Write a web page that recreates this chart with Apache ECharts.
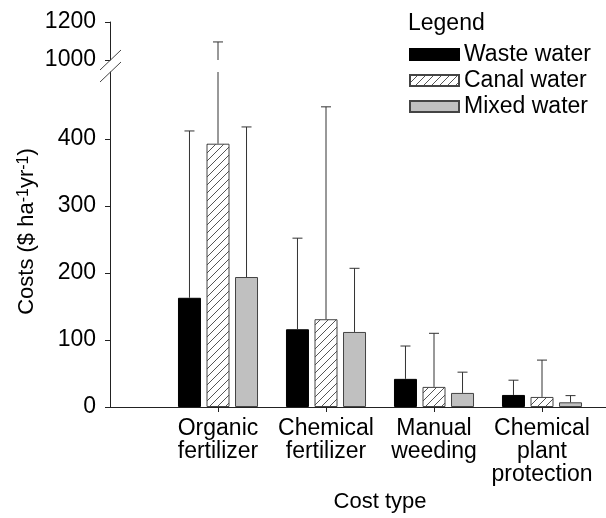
<!DOCTYPE html>
<html>
<head>
<meta charset="utf-8">
<script src="https://cdn.jsdelivr.net/npm/echarts@6/dist/echarts.min.js"></script>
<style>
  html, body { margin: 0; padding: 0; background: #fff; }
  #chart { width: 606px; height: 518px; }
</style>
</head>
<body>
<div id="chart"></div>
<script>
// values (mean and upper error)
var categories = ['Organic\nfertilizer', 'Chemical\nfertilizer', 'Manual\nweeding', 'Chemical\nplant\nprotection'];
var seriesNames = ['Waste water', 'Canal water', 'Mixed water'];
var wasteMean = [163, 116, 42, 18];
var wasteSd = [249, 136, 49, 22];
var canalMean = [393, 131, 30, 15];
var canalSd = [702, 317, 80, 55];
var mixedMean = [194, 112, 21, 7];
var mixedSd = [224, 95, 31, 10];
var lowerTicks = [0, 100, 200, 300, 400];
var upperTicks = [1000, 1200];

var FONT = 'Liberation Sans, Arial, sans-serif';
var BAR_W = 23;
var BAR_GAP = 0.24;
var AXIS_COLOR = '#222';

// hatch fill for canal water
var hatch = document.createElement('canvas');
hatch.width = 8;
hatch.height = 8;
var hctx = hatch.getContext('2d');
hctx.fillStyle = '#fff';
hctx.fillRect(0, 0, 8, 8);
hctx.strokeStyle = '#555';
hctx.lineWidth = 1;
hctx.beginPath();
hctx.moveTo(0, 8); hctx.lineTo(8, 0);
hctx.moveTo(-1, 1); hctx.lineTo(1, -1);
hctx.moveTo(7, 9); hctx.lineTo(9, 7);
hctx.stroke();

var xData = [''].concat(categories, ['']);

function barData(mean) {
	return mean.map(function(v, i) { return [i + 1, v]; });
}
function errData(mean, sd) {
	return mean.map(function(v, i) { return [i + 1, v, v + sd[i]]; });
}

function errRender(k) {
	return function(params, api) {
		var cs = params.coordSys;
		var x = api.coord([api.value(0), 0])[0] + (k - 1) * BAR_W * (1 + BAR_GAP);
		var yLow = api.coord([api.value(0), api.value(1)])[1];
		var yHigh = api.coord([api.value(0), api.value(2)])[1];
		var top = cs.y, bottom = cs.y + cs.height;
		if (yHigh > bottom || yLow < top) return;
		var y1 = Math.min(yLow, bottom);
		var y2 = Math.max(yHigh, top);
		var style = { stroke: '#333', lineWidth: 1 };
		var children = [{ type: 'line', shape: { x1: x, y1: y1, x2: x, y2: y2 }, style: style }];
		if (yHigh >= top) {
			children.push({ type: 'line', shape: { x1: x - 5, y1: yHigh, x2: x + 5, y2: yHigh }, style: style });
		}
		return { type: 'group', children: children };
	};
}

var styles = [
	{ color: '#000', borderColor: '#000', borderWidth: 1 },
	{ color: { image: hatch, repeat: 'repeat' }, borderColor: '#444', borderWidth: 1 },
	{ color: '#c0c0c0', borderColor: '#444', borderWidth: 1 }
];
var means = [wasteMean, canalMean, mixedMean];
var sds = [wasteSd, canalSd, mixedSd];

var series = [];
for (var k = 0; k < 3; k++) {
	series.push({
		name: seriesNames[k],
		type: 'bar',
		xAxisIndex: 0,
		yAxisIndex: 0,
		barWidth: BAR_W,
		barGap: (BAR_GAP * 100) + '%',
		itemStyle: styles[k],
		emphasis: { disabled: true },
		data: barData(means[k])
	});
}
for (var k = 0; k < 3; k++) {
	for (var g = 0; g < 2; g++) {
		series.push({
			type: 'custom',
			xAxisIndex: g,
			yAxisIndex: g,
			z: 5,
			silent: true,
			renderItem: errRender(k),
			data: errData(means[k], sds[k])
		});
	}
}

var plain = function(v) { return String(v); };

var chart = echarts.init(document.getElementById('chart'));
chart.setOption({
	animation: false,
	textStyle: { fontFamily: FONT },
	title: {
		text: 'Legend',
		left: 403,
		top: 7,
		textStyle: { fontSize: 23, fontWeight: 'normal', color: '#000', fontFamily: FONT }
	},
	legend: {
		orient: 'vertical',
		left: 404,
		top: 38,
		icon: 'rect',
		itemWidth: 49,
		itemHeight: 11,
		itemGap: 3,
		selectedMode: false,
		textStyle: { fontSize: 23, color: '#000', fontFamily: FONT },
		data: seriesNames
	},
	grid: [
		{ left: 110, top: 72, width: 540, height: 335, outerBoundsMode: 'none' },
		{ left: 110, top: 22, width: 540, height: 38, outerBoundsMode: 'none' }
	],
	xAxis: [
		{
			type: 'category',
			gridIndex: 0,
			data: xData,
			boundaryGap: false,
			axisLine: { lineStyle: { color: AXIS_COLOR } },
			axisTick: {
				length: 5,
				interval: function(i, v) { return v !== ''; },
				lineStyle: { color: AXIS_COLOR }
			},
			axisLabel: { interval: 0, fontSize: 23, lineHeight: 23, margin: 10, color: '#000', fontFamily: FONT },
			name: 'Cost type',
			nameLocation: 'middle',
			nameGap: 78,
			nameTextStyle: { fontSize: 22, color: '#000', fontFamily: FONT }
		},
		{
			type: 'category',
			gridIndex: 1,
			data: xData,
			boundaryGap: false,
			show: false
		}
	],
	yAxis: [
		{
			type: 'value',
			gridIndex: 0,
			min: 0,
			max: 500,
			interval: 100,
			axisLine: { show: true, lineStyle: { color: AXIS_COLOR } },
			axisTick: { show: true, length: 5, customValues: lowerTicks, lineStyle: { color: AXIS_COLOR } },
			axisLabel: { customValues: lowerTicks, formatter: plain, fontSize: 23, margin: 14, color: '#000', fontFamily: FONT },
			splitLine: { show: false },
			name: 'Costs ($ ha{sup|-1}yr{sup|-1})',
			nameLocation: 'middle',
			nameGap: 72,
			nameTextStyle: {
				fontSize: 22,
				color: '#000',
				fontFamily: FONT,
				padding: [0, 0, 0, 16],
				rich: {
					sup: { fontSize: 16, verticalAlign: 'top', color: '#000', fontFamily: FONT }
				}
			}
		},
		{
			type: 'value',
			gridIndex: 1,
			min: 1000,
			max: 1200,
			interval: 200,
			axisLine: { show: true, lineStyle: { color: AXIS_COLOR } },
			axisTick: { show: true, length: 5, customValues: upperTicks, lineStyle: { color: AXIS_COLOR } },
			axisLabel: { customValues: upperTicks, formatter: plain, fontSize: 23, margin: 14, color: '#000', fontFamily: FONT },
			splitLine: { show: false }
		}
	],
	series: series
});

// axis break marks
var pLow = chart.convertToPixel({ gridIndex: 0 }, [0, 500]);
var pHigh = chart.convertToPixel({ gridIndex: 1 }, [0, 1000]);
function slash(p) {
	return {
		type: 'line',
		shape: { x1: p[0] - 10, y1: p[1] + 10, x2: p[0] + 11, y2: p[1] - 10 },
		style: { stroke: '#444', lineWidth: 1 },
		z: 10
	};
}
chart.setOption({ graphic: [slash(pLow), slash(pHigh)] });
</script>
</body>
</html>
